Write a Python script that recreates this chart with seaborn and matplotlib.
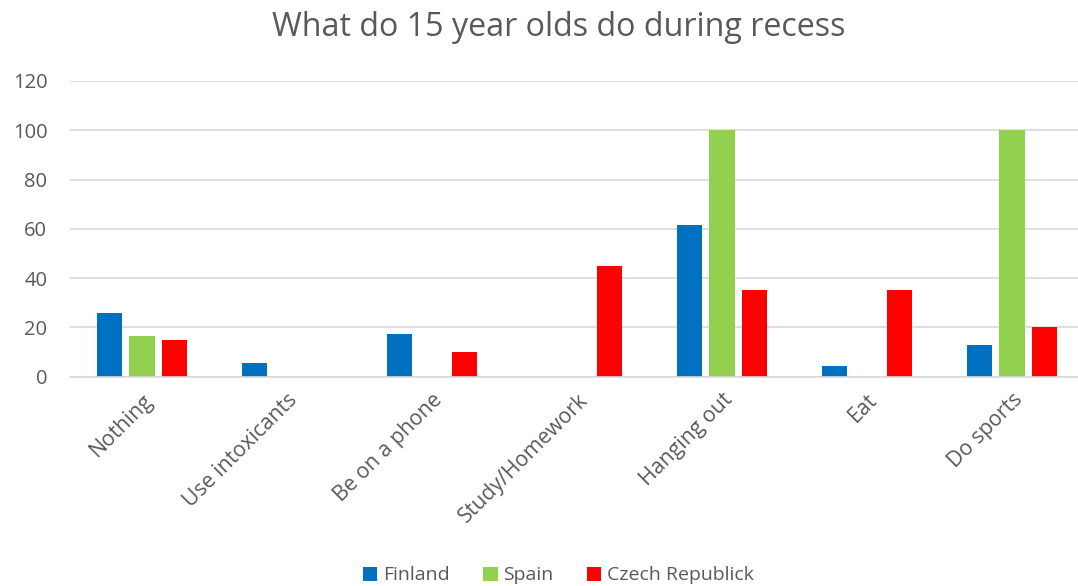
import numpy as np
import pandas as pd
import matplotlib
matplotlib.use("Agg")
import matplotlib.pyplot as plt
import seaborn as sns

categories = ["Nothing", "Use intoxicants", "Be on a phone", "Study/Homework",
              "Hanging out", "Eat", "Do sports"]
series = ["Finland", "Spain", "Czech Republick"]
finland = [25.8, 5.7, 17.3, 0, 61.5, 4.4, 12.8]
spain = [16.6, 0, 0, 0, 100, 0, 100]
czech = [15, 0, 10, 45, 35, 35, 20]
colors = ["#0070C0", "#92D050", "#FF0000"]
yticks = [0, 20, 40, 60, 80, 100, 120]

df = pd.DataFrame({
    "Category": categories * 3,
    "Country": sum([[s] * len(categories) for s in series], []),
    "Value": finland + spain + czech,
})

sns.set_theme(style="white")
plt.rcParams["font.family"] = ["Open Sans", "DejaVu Sans"]
text_color = "#595959"

fig = plt.figure(figsize=(10.78, 5.86), dpi=100)
ax = fig.add_axes([0.0645, 0.357, 0.9416, 0.505])

sns.barplot(data=df, x="Category", y="Value", hue="Country", order=categories,
            hue_order=series, palette=colors, width=0.67, gap=0.22,
            ax=ax, errorbar=None, legend=True, saturation=1, edgecolor="none")

ax.set_ylim(0, 120)
ax.set_yticks(yticks)
ax.set_xlim(-0.5, len(categories) - 0.5)
ax.yaxis.grid(True, color="#D9D9D9", linewidth=1.2)
ax.set_axisbelow(True)
for s in ["top", "right", "left"]:
    ax.spines[s].set_visible(False)
ax.spines["bottom"].set_color("#D9D9D9")
ax.spines["bottom"].set_linewidth(1.2)
ax.set_xlabel("")
ax.set_ylabel("")
ax.tick_params(axis="y", length=0, colors=text_color, labelsize=14.5)
ax.tick_params(axis="x", length=0, colors=text_color, labelsize=15.3)
ax.yaxis.set_tick_params(pad=16)
for lbl in ax.get_xticklabels():
    lbl.set_rotation(45)
    lbl.set_ha("right")
    lbl.set_rotation_mode("anchor")
ax.xaxis.set_tick_params(pad=9)

fig.text(0.518, 0.953, "What do 15 year olds do during recess", ha="center",
         va="center", fontsize=23.2, color=text_color)

handles, labels = ax.get_legend_handles_labels()
ax.legend_.remove()
fig.legend(handles, labels, loc="center", bbox_to_anchor=(0.518, 0.018),
           ncol=3, frameon=False, fontsize=14, labelcolor=text_color,
           handlelength=0.75, handleheight=0.75, handletextpad=0.3, columnspacing=1.7)

fig.savefig("out.png", dpi=100)
